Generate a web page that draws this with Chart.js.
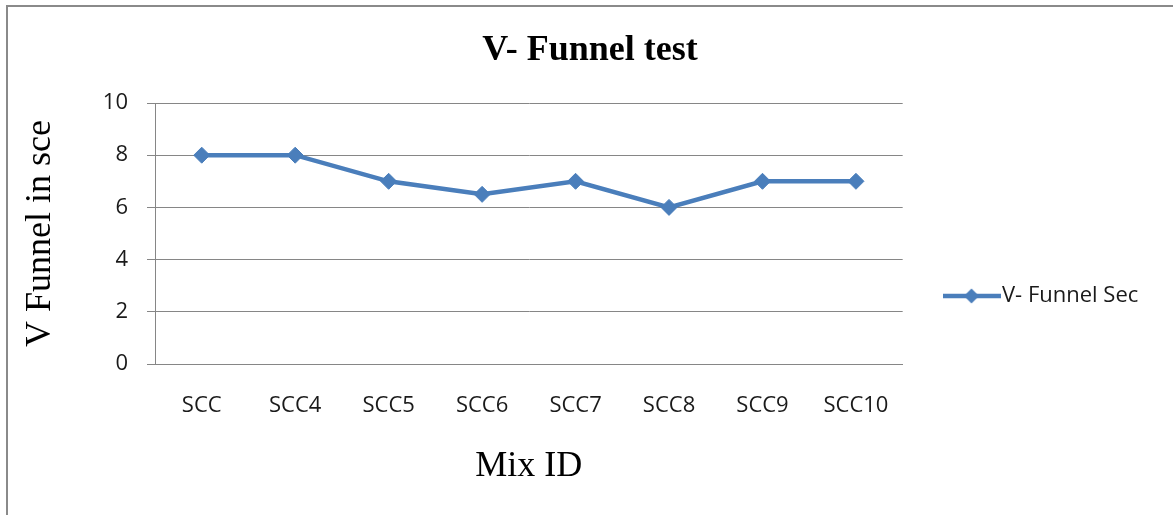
<!DOCTYPE html>
<html>
<head>
<meta charset="utf-8">
<script src="https://cdn.jsdelivr.net/npm/chart.js@4.4.0/dist/chart.umd.min.js"></script>
<style>
  html, body { margin: 0; padding: 0; background: #ffffff; }
  #wrap { width: 1173px; height: 515px; position: relative; }
</style>
</head>
<body>
<div id="wrap"><canvas id="c"></canvas></div>
<script>
const categories = ['SCC', 'SCC4', 'SCC5', 'SCC6', 'SCC7', 'SCC8', 'SCC9', 'SCC10'];
const vFunnelSec = [8, 8, 7, 6.5, 7, 6, 7, 7];
const yTickValues = [0, 2, 4, 6, 8, 10];
const seriesLabel = 'V- Funnel Sec';
const chartTitle = 'V- Funnel test';
const yTitle = 'V Funnel in sce';
const xTitle = 'Mix ID';

const LINE = '#4A7EBB';
const GRID = '#868686';
const SANS = "'Open Sans', 'Liberation Sans', sans-serif";
const SERIF = "'Liberation Serif', 'DejaVu Serif', serif";

// legend symbol: line with diamond
const sym = document.createElement('canvas');
sym.width = 58; sym.height = 18;
(function () {
  const g = sym.getContext('2d');
  g.strokeStyle = LINE; g.lineWidth = 4.5; g.lineCap = 'butt';
  g.beginPath(); g.moveTo(0, 9); g.lineTo(58, 9); g.stroke();
  g.fillStyle = LINE;
  g.beginPath(); g.moveTo(29 - 7.5, 9); g.lineTo(29, 9 - 7.5); g.lineTo(29 + 7.5, 9); g.lineTo(29, 9 + 7.5); g.closePath(); g.fill();
})();

const framePlugin = {
  id: 'frame',
  beforeDraw(chart) {
    const ctx = chart.ctx;
    ctx.save();
    ctx.strokeStyle = '#8a8a8a';
    ctx.lineWidth = 2;
    ctx.beginPath();
    ctx.moveTo(7, 515); ctx.lineTo(7, 6); ctx.lineTo(1173, 6);
    ctx.stroke();
    ctx.restore();
  }
};

const placePlugin = {
  id: 'place',
  afterLayout(chart) {
    const lg = chart.legend;
    if (lg) {
      const pad = lg.options.labels.padding;
      const dy = 296 - (lg.top + lg.bottom) / 2;
      lg.top += dy; lg.bottom += dy;
      const dx = 952 - (lg.left + pad);
      lg.left += dx; lg.right += dx;
    }
    const t = chart.titleBlock;
    if (t) {
      const dx = 590 - (t.left + t.right) / 2;
      t.left += dx; t.right += dx;
    }
  }
};

new Chart(document.getElementById('c'), {
  type: 'line',
  data: {
    labels: categories,
    datasets: [{
      label: seriesLabel,
      data: vFunnelSec,
      borderColor: LINE,
      backgroundColor: LINE,
      borderWidth: 4.5,
      pointStyle: 'rectRot',
      pointRadius: 8,
      pointHoverRadius: 8,
      pointBorderWidth: 1,
      pointBackgroundColor: LINE,
      pointBorderColor: LINE,
      tension: 0,
      fill: false
    }]
  },
  options: {
    responsive: true,
    maintainAspectRatio: false,
    animation: false,
    devicePixelRatio: 1,
    layout: { padding: { top: 0, left: 0, bottom: 0, right: 64 } },
    plugins: {
      title: {
        display: true,
        text: chartTitle,
        color: '#000000',
        font: { family: SERIF, size: 36, weight: 'bold', lineHeight: 1.2 },
        padding: { top: 29, bottom: 30.8 }
      },
      legend: {
        display: true,
        position: 'right',
        labels: {
          usePointStyle: true,
          pointStyle: sym,
          pointStyleWidth: 39,
          padding: 10,
          color: '#1a1a1a',
          font: { family: SANS, size: 22 }
        }
      },
      tooltip: { enabled: false }
    },
    scales: {
      x: {
        type: 'category',
        offset: true,
        grid: { display: false, drawTicks: false },
        border: { display: true, color: GRID, width: 1 },
        ticks: { color: '#1a1a1a', font: { family: SANS, size: 22 }, padding: 28.8, maxRotation: 0, autoSkip: false },
        title: { display: true, text: xTitle, color: '#000000', font: { family: SERIF, size: 36, lineHeight: 1.2 }, padding: { top: 0, bottom: 27 } },
        afterFit(s) { s.height = 151; }
      },
      y: {
        min: yTickValues[0],
        max: yTickValues[yTickValues.length - 1],
        ticks: { stepSize: yTickValues[1] - yTickValues[0], color: '#1a1a1a', font: { family: SANS, size: 22 }, padding: 19 },
        grid: { color: GRID, lineWidth: 1, tickLength: 8, drawTicks: true },
        border: { display: true, color: GRID, width: 1 },
        title: { display: true, text: yTitle, color: '#000000', font: { family: SERIF, size: 36, lineHeight: 1.2 }, padding: { top: 19, bottom: 0 } },
        afterFit(s) { s.width = 155; }
      }
    }
  },
  plugins: [framePlugin, placePlugin]
});
</script>
</body>
</html>
